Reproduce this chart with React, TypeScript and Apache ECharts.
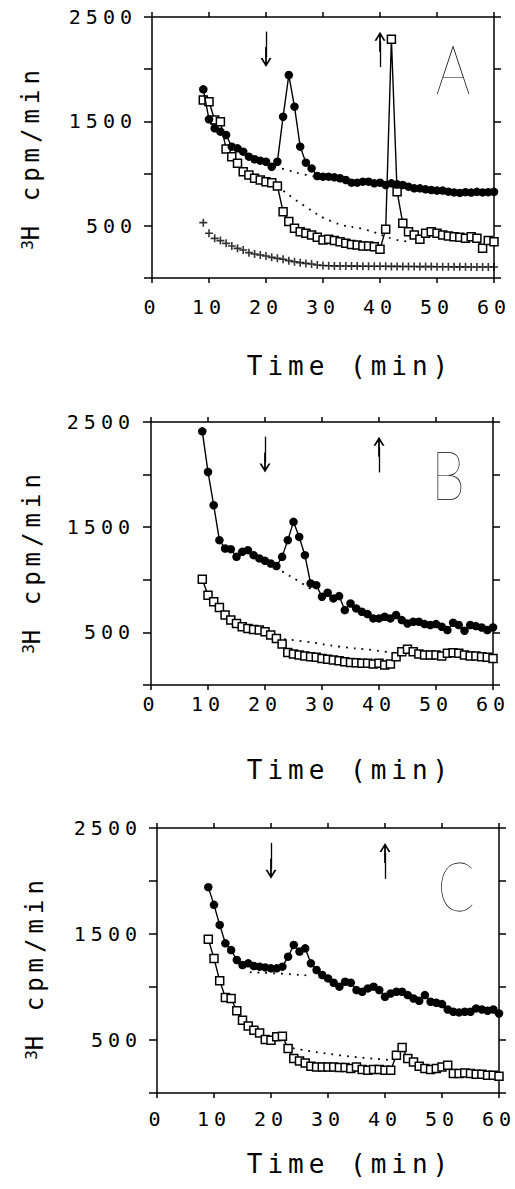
import React, { useEffect, useRef } from "react";
import * as echarts from "echarts";

// ---------- data ----------
const times = [
  9, 10, 11, 12, 13, 14, 15, 16, 17, 18, 19, 20, 21, 22, 23, 24, 25, 26, 27, 28, 29, 30,
  31, 32, 33, 34, 35, 36, 37, 38, 39, 40, 41, 42, 43, 44, 45, 46, 47, 48, 49, 50,
  51, 52, 53, 54, 55, 56, 57, 58, 59, 60,
];

// Panel A
const circA = [
  1807, 1520, 1434, 1402, 1370, 1258, 1242, 1210, 1162, 1137, 1124, 1114,
  1066, 1114, 1545, 1944, 1641, 1258, 1105, 1050, 977, 971,
  971, 964, 955, 939, 913, 913, 923, 923, 907, 913,
  891, 907, 897, 891, 875, 859, 859, 849, 843, 837,
  837, 827, 820, 815, 822, 818, 825, 820, 822, 825,
];
const sqA = [
  1705, 1689, 1513, 1497, 1236, 1162, 1098, 1018, 987, 955, 939, 923,
  913, 881, 635, 540, 476, 444, 428, 412, 390, 364,
  370, 358, 348, 332, 322, 316, 307, 307, 300, 275,
  466, 2286, 827, 524, 444, 412, 370, 428, 444, 428,
  412, 402, 396, 390, 380, 396, 380, 284, 358, 348,
];
const crossA = [
  530, 428, 380, 358, 332, 307, 284, 268, 243, 230, 220, 211,
  198, 188, 179, 166, 156, 147, 140, 134, 125, 120,
  118, 116, 115, 115, 114, 114, 113, 113, 112, 112,
  112, 111, 111, 110, 110, 110, 109, 109, 109, 108,
  108, 108, 107, 107, 107, 106, 106, 106, 105, 105,
];
const dotCircA = [[21.5, 1066], [24, 1030], [26, 1000], [28.3, 975]];
const dotSqA = [[22, 881], [26.5, 700], [31.8, 536], [37.7, 460], [42.3, 374], [45, 350]];

// Panel B
const circB = [
  2411, 2025, 1709, 1377, 1297, 1291, 1218, 1266, 1282, 1234, 1203, 1180,
  1155, 1130, 1218, 1377, 1551, 1408, 1234, 965, 949, 839,
  877, 823, 845, 712, 775, 728, 696, 674, 633, 633,
  649, 633, 665, 617, 585, 601, 601, 579, 570, 579,
  554, 522, 592, 570, 516, 570, 560, 547, 522, 547,
];
const sqB = [
  1006, 854, 791, 737, 665, 617, 585, 554, 538, 528, 522, 506,
  475, 443, 389, 310, 294, 285, 275, 269, 263, 253,
  244, 237, 231, 222, 215, 212, 206, 206, 199, 206,
  190, 199, 269, 316, 339, 316, 294, 285, 285, 285,
  275, 301, 307, 301, 285, 275, 275, 269, 263, 253,
];
const dotCircB = [[22, 1130], [23.2, 1074], [25.5, 1000], [28.7, 890]];
const dotSqB = [[22, 443], [27.3, 411], [33.1, 364], [38.9, 332], [42, 310]];

// Panel C
const circC = [
  1942, 1775, 1586, 1412, 1349, 1255, 1207, 1223, 1198, 1192, 1185, 1176,
  1176, 1192, 1286, 1397, 1334, 1365, 1223, 1160, 1113, 1081,
  1040, 1003, 1050, 1040, 971, 955, 987, 1003, 971, 908,
  939, 955, 955, 924, 892, 870, 924, 861, 851, 839,
  788, 766, 760, 766, 766, 798, 788, 776, 788, 750,
];
const sqC = [
  1450, 1270, 1059, 902, 892, 776, 687, 631, 593, 567, 504, 498,
  530, 536, 419, 325, 303, 284, 252, 246, 246, 246,
  246, 240, 240, 230, 246, 221, 214, 221, 221, 214,
  214, 356, 429, 325, 293, 252, 230, 221, 230, 246,
  262, 183, 183, 189, 183, 177, 177, 167, 167, 158,
];
const dotCircC = [[16.3, 1140], [22, 1125], [27, 1107]];
const dotSqC = [[22.5, 435], [32, 356], [41.7, 309]];

// axes / annotations
const xTickLabels = [0, 10, 20, 30, 40, 50, 60];
const yTickLabels = [2500, 1500, 500];
const arrowDownTime = 20;
const arrowUpTime = 40;
const arrowHigh = 2360;
const arrowLow = 2020;
const panelLetters = ["A", "B", "C"];

// ---------- styles ----------
const FONT = '"DejaVu Sans Mono", monospace';
const BLACK = "#000";
const ARROW =
  "path://M5,0L10,9L8.2,9L5.8,4.6V20H4.2V4.6L1.8,9H0Z";
const PLUS = "path://M4,0H6V4H10V6H6V10H4V6H0V4H4Z";

const layouts = [
  { grid: { left: 152, top: 17, width: 342, height: 261 }, xMargin: 19, yMargin: 15,
    letter: [455, 67], yName: [31, 180], xName: [350, 366] },
  { grid: { left: 151, top: 422, width: 342, height: 263 }, xMargin: 9, yMargin: 16,
    letter: [450, 473], yName: [32, 584], xName: [350, 770] },
  { grid: { left: 157, top: 828, width: 342, height: 265 }, xMargin: 16, yMargin: 15,
    letter: [458, 884], yName: [35, 990], xName: [350, 1164] },
];

const panelsData = [
  { circ: circA, sq: sqA, cross: crossA, dotCirc: dotCircA, dotSq: dotSqA },
  { circ: circB, sq: sqB, cross: null, dotCirc: dotCircB, dotSq: dotSqB },
  { circ: circC, sq: sqC, cross: null, dotCirc: dotCircC, dotSq: dotSqC },
];

function buildOption() {
  const axisLine = { lineStyle: { color: BLACK, width: 1.5 } };
  const grids: any[] = [];
  const xAxes: any[] = [];
  const yAxes: any[] = [];
  const series: any[] = [];
  const graphics: any[] = [];

  layouts.forEach((L, p) => {
    grids.push({ ...L.grid, containLabel: false });
    xAxes.push({
      gridIndex: p, type: "value", min: 0, max: 60, interval: 10, position: "bottom",
      axisLine: { show: true, onZero: false, ...axisLine },
      axisTick: { show: true, length: 5, lineStyle: { color: BLACK, width: 1.5 } },
      axisLabel: {
        margin: L.xMargin, fontFamily: FONT, fontSize: 20, color: BLACK,
        formatter: (v: number) => (xTickLabels.includes(v) ? String(v) : ""),
      },
      splitLine: { show: false },
    });
    xAxes.push({
      gridIndex: p, type: "value", min: 0, max: 60, interval: 10, position: "top",
      axisLine: { show: true, onZero: false, ...axisLine },
      axisTick: { show: true, length: 5, lineStyle: { color: BLACK, width: 1.5 } },
      axisLabel: { show: false }, splitLine: { show: false },
    });
    yAxes.push({
      gridIndex: p, type: "value", min: 0, max: 2500, interval: 500, position: "left",
      axisLine: { show: true, onZero: false, ...axisLine },
      axisTick: { show: true, length: 8, lineStyle: { color: BLACK, width: 1.5 } },
      axisLabel: {
        margin: L.yMargin, fontFamily: FONT, fontSize: 20, color: BLACK,
        formatter: (v: number) => (yTickLabels.includes(v) ? String(v) : ""),
      },
      splitLine: { show: false },
    });
    yAxes.push({
      gridIndex: p, type: "value", min: 0, max: 2500, interval: 500, position: "right",
      axisLine: { show: true, onZero: false, ...axisLine },
      axisTick: { show: true, length: 7, lineStyle: { color: BLACK, width: 1.5 } },
      axisLabel: { show: false }, splitLine: { show: false },
    });

    const D = panelsData[p];
    const xi = 2 * p;
    const yi = 2 * p;
    const dotStyle = { color: BLACK, width: 1.8, type: [1.8, 6] };

    series.push({
      type: "line", xAxisIndex: xi, yAxisIndex: yi, data: D.dotSq, smooth: true,
      symbol: "none", lineStyle: dotStyle, silent: true, z: 1,
    });
    series.push({
      type: "line", xAxisIndex: xi, yAxisIndex: yi, data: D.dotCirc, smooth: true,
      symbol: "none", lineStyle: dotStyle, silent: true, z: 1,
    });
    if (D.cross) {
      series.push({
        type: "scatter", xAxisIndex: xi, yAxisIndex: yi,
        data: times.map((t, i) => [t, D.cross![i]]),
        symbol: PLUS, symbolSize: 8, itemStyle: { color: BLACK }, silent: true, z: 2,
      });
    }
    series.push({
      type: "line", xAxisIndex: xi, yAxisIndex: yi,
      data: times.map((t, i) => [t, D.sq[i]]),
      symbol: "rect", symbolSize: 8, showSymbol: true,
      itemStyle: { color: "#fff", borderColor: BLACK, borderWidth: 1.5 },
      lineStyle: { color: BLACK, width: 1.4 }, silent: true, z: 3,
    });
    series.push({
      type: "line", xAxisIndex: xi, yAxisIndex: yi,
      data: times.map((t, i) => [t, D.circ[i]]),
      symbol: "circle", symbolSize: 8.5, showSymbol: true,
      itemStyle: { color: BLACK },
      lineStyle: { color: BLACK, width: 1.4 }, silent: true, z: 4,
      markLine: {
        silent: true, animation: false,
        symbol: ["none", ARROW],
        label: { show: false },
        lineStyle: { color: BLACK, width: 1.3, type: "solid" },
        emphasis: { disabled: true },
        data: [
          [
            { coord: [arrowDownTime, arrowHigh] },
            { coord: [arrowDownTime, arrowLow + 96], symbolSize: [11, 20] },
          ],
          [
            { coord: [arrowUpTime, arrowLow] },
            { coord: [arrowUpTime, arrowHigh - 96], symbolSize: [11, 20] },
          ],
        ],
      },
    });

    graphics.push({
      type: "text", x: L.letter[0], y: L.letter[1], scaleX: 0.8, silent: true,
      style: {
        text: panelLetters[p], fill: BLACK,
        font: '100 68px "Lato Hairline", "Lato", sans-serif',
        align: "center", verticalAlign: "middle",
        textAlign: "center", textVerticalAlign: "middle",
      },
    });
    graphics.push({
      type: "text", x: L.yName[0], y: L.yName[1], rotation: Math.PI / 2, silent: true,
      style: {
        text: "{s|3}{n|H cpm/min}", fill: BLACK,
        align: "center", verticalAlign: "middle",
        textAlign: "center", textVerticalAlign: "middle",
        rich: {
          s: { fontFamily: FONT, fontSize: 16, verticalAlign: "top", align: "left", fill: BLACK },
          n: { fontFamily: FONT, fontSize: 24, verticalAlign: "bottom", align: "left", fill: BLACK },
        },
      },
    });
    graphics.push({
      type: "text", x: L.xName[0], y: L.xName[1], silent: true,
      style: {
        text: "Time (min)", fill: BLACK, font: `26px ${FONT}`,
        align: "center", verticalAlign: "middle",
        textAlign: "center", textVerticalAlign: "middle",
      },
    });
  });

  return {
    animation: false,
    backgroundColor: "#fff",
    grid: grids,
    xAxis: xAxes,
    yAxis: yAxes,
    series,
    graphic: graphics,
  };
}

export default function App() {
  const ref = useRef<HTMLDivElement>(null);
  useEffect(() => {
    if (!ref.current) return;
    const chart = echarts.init(ref.current, undefined, { renderer: "svg" });
    chart.setOption(buildOption() as any);
    return () => chart.dispose();
  }, []);
  return (
    <div
      ref={ref}
      style={{
        position: "absolute", left: 0, top: 0, width: 515, height: 1189,
        letterSpacing: "5px", background: "#fff",
      }}
    />
  );
}
